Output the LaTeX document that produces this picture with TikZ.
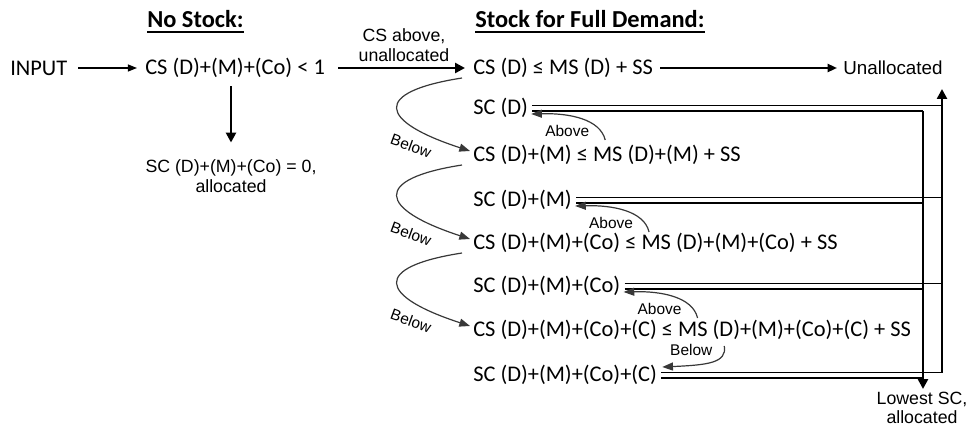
\documentclass[tikz,border=0pt]{standalone}
\usepackage{fontspec}
\setmainfont{Carlito}
\newfontfamily\arialf{Liberation Sans}
\usetikzlibrary{arrows.meta,calc}
\begin{document}
\begin{tikzpicture}[x=0.75pt,y=-0.75pt,
  main/.style={font=\fontsize{16.8}{20}\selectfont, inner sep=0pt, anchor=west},
  lab/.style={font=\arialf\fontsize{13.3}{14.5}\selectfont, inner sep=0pt, align=center},
  small/.style={font=\arialf\fontsize{11.6}{13}\selectfont, inner sep=0pt},
  ttl/.style={font=\bfseries\fontsize{18.3}{22}\selectfont, inner sep=0pt, anchor=base west},
  thinarr/.style={line width=1pt, -{Triangle[length=6.8pt,width=5.2pt]}},
  medarr/.style={line width=1.6pt, -{Triangle[length=7pt,width=6pt]}},
  thickarr/.style={line width=2.2pt, -{Triangle[length=7.5pt,width=7.5pt]}},
  curvearr/.style={draw=black!78, line width=0.9pt, -{Triangle[length=8pt,width=6pt]}},
  scline/.style={line width=0.9pt},
  ulin/.style={line width=1.4pt}
]
\useasboundingbox (0,0) rectangle (968,428);

% titles
\node[ttl] (t1) at (147,28) {No Stock:};
\node[ttl] (t2) at (475,28) {Stock for Full Demand:};
\draw[ulin] ($(t1.base west)+(0,4)$) -- ($(t1.base east)+(0,4)$);
\draw[ulin] ($(t2.base west)+(0,4)$) -- ($(t2.base east)+(0,4)$);

% left part
\node[main] (in) at (10,68) {INPUT};
\node[main] (cs0) at (145,68) {CS (D)+(M)+(Co) < 1};
\node[lab] (sc0) at (231,176) {SC (D)+(M)+(Co) = 0,\\allocated};
\node[lab] (csa) at (404,45) {CS above,\\unallocated};

% right part
\node[main] (cs1) at (473,68) {CS (D) ≤ MS (D) + SS};
\node[lab, anchor=west, font=\arialf\fontsize{14.1}{16}\selectfont] (un) at (843,68) {Unallocated};
\node[main] (sc1) at (473,108) {SC (D)};
\node[main] (cs2) at (473,155) {CS (D)+(M) ≤ MS (D)+(M) + SS};
\node[main] (sc2) at (473,200) {SC (D)+(M)};
\node[main] (cs3) at (473,243) {CS (D)+(M)+(Co) ≤ MS (D)+(M)+(Co) + SS};
\node[main] (sc3) at (473,286) {SC (D)+(M)+(Co)};
\node[main] (cs4) at (473,330) {CS (D)+(M)+(Co)+(C) ≤ MS (D)+(M)+(Co)+(C) + SS};
\node[main] (sc4) at (473,375) {SC (D)+(M)+(Co)+(C)};
\node[lab] (low) at (922,408) {Lowest SC,\\allocated};

% main arrows
\draw[thinarr] ($(in.east)+(11,0)$) -- ($(cs0.west)+(-8,0)$);
\draw[thickarr] ($(cs0.east)+(13,0)$) -- ($(cs1.west)+(-8,0)$);
\draw[thickarr] ($(cs0.south -| sc0.north)+(0,8)$) -- ($(sc0.north)+(0,-17)$);
\draw[medarr] ($(cs1.east)+(7,0)$) -- ($(un.west)+(-6,0)$);

% right verticals
\coordinate (xu) at (942,0);
\coordinate (xd) at (923,0);
\coordinate (uptip) at (942,89);
\coordinate (dntip) at (923,389);

\foreach \i in {1,2,3,4}{
  \draw[scline] ($(sc\i.east)+(4,-2.5)$) coordinate (a\i) -- (a\i -| xu);
  \draw[scline] ($(sc\i.east)+(4,3)$) coordinate (b\i) -- (b\i -| xd);
}
\draw[thickarr] (xd |- b1) -- (dntip);
\draw[thickarr] (xu |- a4) -- (uptip);

% Below curves (CS -> next CS)
\foreach \a/\b in {cs1/cs2, cs2/cs3, cs3/cs4}{
  \draw[curvearr] ($(\a.west)+(-11,10)$) .. controls +(-90,14) and +(-92,-30) .. ($(\b.west)+(-3,-4)$);
  \node[small, rotate=-20] at ($(\b.west)+(-62,-9)$) {Below};
}

% Above curves (CS -> SC above)
\foreach \s in {1,2,3}{
  \coordinate (tp\s) at ($(sc\s.east)+(3,6)$);
  \draw[curvearr] ($(tp\s)+(74,26)$) .. controls +(-5,-21) and +(38,-1) .. (tp\s);
  \node[small] at ($(tp\s)+(36,17)$) {Above};
}

% last Below curve (CS4 -> SC4)
\coordinate (tp4) at ($(sc4.east)+(5,-8)$);
\draw[curvearr] ($(tp4)+(62,-21)$) .. controls +(3,17) and +(45,-2) .. (tp4);
\node[small] at ($(tp4)+(29,-17)$) {Below};
\end{tikzpicture}
\end{document}
